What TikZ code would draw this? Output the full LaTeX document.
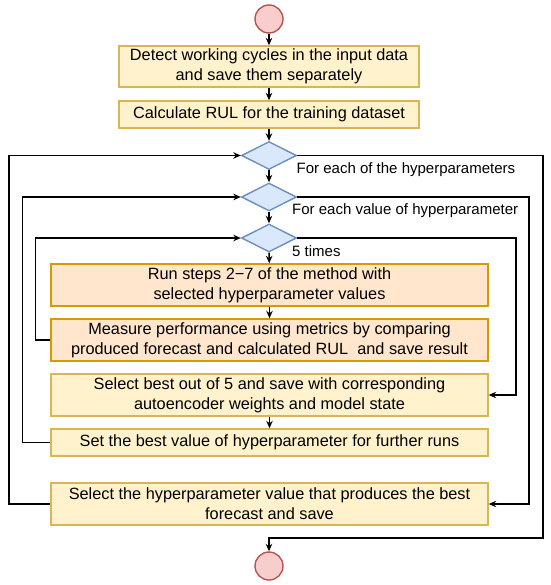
\documentclass[tikz,border=0pt]{standalone}
\usepackage{fontspec}
\setmainfont{Liberation Sans}
\usetikzlibrary{shapes.geometric,arrows.meta}
\definecolor{yfill}{HTML}{FFF2CC}
\definecolor{ydraw}{HTML}{D6B656}
\definecolor{ofill}{HTML}{FFE6CC}
\definecolor{odraw}{HTML}{D79B00}
\definecolor{bfill}{HTML}{DAE8FC}
\definecolor{bdraw}{HTML}{6C8EBF}
\definecolor{rfill}{HTML}{F8CECC}
\definecolor{rdraw}{HTML}{B85450}
\tikzset{
  box/.style={draw=ydraw, fill=yfill, line width=1.4pt, rectangle, inner sep=0pt, align=center,
    font=\fontsize{16.3}{20}\selectfont, text=black},
  obox/.style={box, draw=odraw, fill=ofill},
  dec/.style={draw=bdraw, fill=bfill, line width=1.4pt, diamond, aspect=1.96, inner sep=0pt,
    minimum width=55pt, minimum height=28pt},
  term/.style={draw=rdraw, fill=rfill, line width=1.4pt, circle, inner sep=0pt, minimum size=28pt},
  arr/.style={draw=black, line width=1.5pt, -{Stealth[length=7.5pt,width=6.5pt]}},
  lab/.style={anchor=west, inner sep=0pt, font=\fontsize{15}{18}\selectfont}
}
\begin{document}
\begin{tikzpicture}[x=1pt,y=-1pt]
\useasboundingbox (0,0) rectangle (550,585);
\node[term] (start) at (269,19) {};
\node[box, minimum width=300pt, minimum height=41pt] (b1) at (269,66.5) {Detect working cycles in the input data\\and save them separately};
\node[box, minimum width=300pt, minimum height=27pt] (b2) at (269,114.5) {Calculate RUL for the training dataset};
\node[dec] (d1) at (269,155.5) {};
\node[dec] (d2) at (269,197) {};
\node[dec] (d3) at (269,238) {};
\node[obox, minimum width=437pt, minimum height=42pt] (b3) at (269.5,285) {Run steps 2−7 of the method with\\selected hyperparameter values};
\node[obox, minimum width=437pt, minimum height=42pt] (b4) at (269.5,340) {Measure performance using metrics by comparing\\produced forecast and calculated RUL\ \ and save result};
\node[box, minimum width=437pt, minimum height=42pt] (b5) at (269.5,395) {Select best out of 5 and save with corresponding\\autoencoder weights and model state};
\node[box, minimum width=437pt, minimum height=27pt] (b6) at (269.5,442.5) {Set the best value of hyperparameter for further runs};
\node[box, minimum width=437pt, minimum height=42pt] (b7) at (269.5,504) {Select the hyperparameter value that produces the best\\forecast and save};
\node[term] (end) at (269,566) {};

\node[lab] (l1) at (296.5,169.5) {For each of the hyperparameters};
\node[lab] (l2) at (292,211) {For each value of hyperparameter};
\node[lab] (l3) at (292,251) {5 times};

\draw[arr] (start) -- (b1);
\draw[arr] (b1) -- (b2);
\draw[arr] (b2) -- (d1);
\draw[arr] (d1) -- (d2);
\draw[arr] (d2) -- (d3);
\draw[arr] (d3) -- (b3);
\draw[arr] (b3) -- (b4);
\draw[arr] (b5) -- (b6);

\draw[arr] (b7.west) -- ++(-41.5,0) |- (d1.west);
\draw[arr] (d1.east) -| (543,538) -| (end.north);
\draw[arr] (b6.west) -- ++(-28,0) |- (d2.west);
\draw[arr] (d2.east) -| (529,504) -- (b7.east);
\draw[arr] (b4.west) -- ++(-15,0) |- (d3.west);
\draw[arr] (d3.east) -| (516,395) -- (b5.east);
\end{tikzpicture}
\end{document}
